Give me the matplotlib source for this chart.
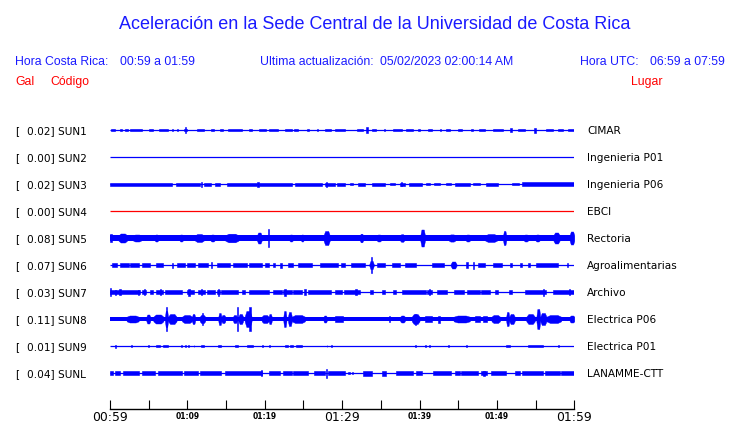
import matplotlib
matplotlib.use('Agg')
import matplotlib.pyplot as plt
import matplotlib.transforms as mtransforms

# estaciones, de arriba hacia abajo
codigos = ['SUN1', 'SUN2', 'SUN3', 'SUN4', 'SUN5', 'SUN6', 'SUN7', 'SUN8', 'SUN9', 'SUNL']
gal = ['0.02', '0.00', '0.02', '0.00', '0.08', '0.07', '0.03', '0.11', '0.01', '0.04']
lugares = ['CIMAR', 'Ingenieria P01', 'Ingenieria P06', 'EBCI', 'Rectoria',
           'Agroalimentarias', 'Archivo', 'Electrica P06', 'Electrica P01', 'LANAMME-CTT']
colores = ['blue', 'blue', 'blue', 'red', 'blue', 'blue', 'blue', 'blue', 'blue', 'blue']
# ancho de banda continua de cada traza (amplitud relativa)
base = [0, 0, 0, 0, 2.7, 0, 0, 2.3, 0, 0]

# eventos de cada traza: (minuto inicio, minuto fin, amplitud)
sun1 = [(0.1, 0.7, 1.3), (1.3, 1.5, 1.3), (2.0, 2.3, 1.2), (2.6, 4.1, 1.3), (5.0, 5.6, 1.2),
        (6.3, 7.5, 1.4), (8.0, 8.2, 1.2), (8.6, 8.8, 1.2), (9.5, 10.0, 1.4), (9.7, 9.85, 2.6),
        (11.2, 12.1, 1.3), (13.0, 13.5, 1.2), (14.2, 14.6, 1.2), (15.3, 17.1, 1.3), (17.9, 18.3, 1.2),
        (19.2, 20.2, 1.3), (20.5, 21.7, 1.2), (22.6, 23.5, 1.3), (23.8, 24.3, 1.2), (25.4, 25.7, 1.2),
        (26.7, 26.9, 1.2), (27.8, 28.6, 1.3), (29.1, 30.4, 1.3), (31.9, 32.7, 1.4), (33.1, 33.3, 2.8),
        (33.8, 34.4, 1.3), (35.4, 35.6, 1.2), (36.6, 37.7, 1.3), (38.3, 39.1, 1.3), (39.8, 40.0, 1.2),
        (41.1, 41.6, 1.4), (42.6, 42.8, 1.2), (43.4, 43.9, 1.2), (45.0, 45.5, 1.3), (46.7, 46.9, 1.2),
        (47.7, 48.4, 1.3), (49.5, 50.8, 1.3), (51.7, 51.9, 2.0), (52.7, 53.6, 1.3), (54.8, 55.1, 2.5),
        (56.4, 57.3, 1.2), (57.9, 58.6, 1.2), (59.2, 60.0, 1.3)]
sun2 = []
sun3 = [(0.0, 8.0, 1.5), (8.5, 11.6, 1.5), (11.7, 11.9, 2.5), (12.1, 13.1, 1.5), (13.6, 14.2, 1.5),
        (15.1, 19.0, 1.5), (19.05, 19.2, 2.5), (19.3, 23.5, 1.5), (23.9, 27.4, 1.5), (27.8, 29.1, 1.5),
        (27.9, 28.05, 2.5), (29.3, 30.4, 1.5), (31.0, 31.4, 1.3), (32.1, 32.9, 1.5), (33.8, 35.5, 1.5),
        (36.2, 36.8, 1.4), (37.5, 38.1, 1.5), (37.6, 37.75, 2.4), (38.6, 40.3, 1.5), (40.8, 41.3, 1.4),
        (41.9, 42.6, 1.4), (43.4, 44.1, 1.4), (44.6, 46.5, 1.5), (46.9, 47.8, 1.4), (48.6, 50.2, 1.5),
        (51.9, 52.8, 1.4), (53.3, 60.0, 1.6)]
sun4 = []
sun5 = [(0.0, 0.2, 4.0), (1.1, 2.2, 4.5), (3.0, 4.0, 3.5), (5.8, 6.2, 3.5), (9.0, 9.4, 3.5),
        (11.0, 12.1, 4.0), (13.0, 13.5, 3.5), (14.9, 16.6, 4.3), (19.0, 19.6, 5.5), (20.4, 20.6, 9.0),
        (23.2, 23.6, 3.5), (24.7, 25.0, 3.5), (27.6, 28.4, 7.0), (32.3, 32.7, 4.3), (34.5, 35.0, 3.5),
        (37.5, 38.0, 3.8), (40.1, 40.7, 8.5), (43.8, 44.6, 3.6), (46.0, 46.5, 3.5), (48.5, 50.0, 4.0),
        (50.8, 51.2, 7.0), (53.5, 54.0, 3.5), (55.0, 55.5, 3.5), (57.3, 58.1, 5.5), (59.4, 60.0, 6.5)]
sun6 = [(0.2, 0.9, 2.0), (1.3, 2.4, 2.0), (2.6, 3.7, 2.0), (4.1, 5.2, 2.0), (6.0, 6.9, 2.0),
        (7.96, 8.2, 2.5), (8.6, 9.7, 2.0), (9.9, 11.0, 2.0), (11.4, 12.7, 2.0), (13.0, 13.2, 3.0),
        (13.8, 15.5, 2.0), (15.9, 17.7, 2.0), (17.9, 19.6, 2.0), (20.0, 20.5, 2.0), (21.1, 21.3, 2.0),
        (22.0, 22.2, 2.5), (23.0, 23.7, 2.0), (24.3, 26.1, 2.0), (27.1, 29.5, 2.0), (29.9, 30.4, 2.0),
        (31.2, 32.9, 2.0), (33.5, 34.1, 4.0), (33.7, 33.9, 8.0), (34.5, 35.5, 2.0), (36.4, 37.5, 2.0),
        (38.1, 39.6, 2.0), (41.6, 43.1, 2.0), (44.0, 44.8, 3.5), (46.0, 46.3, 3.0), (46.9, 47.1, 3.5),
        (47.6, 48.4, 2.0), (49.5, 50.6, 2.0), (51.7, 51.9, 2.0), (53.0, 53.2, 2.0), (54.0, 54.3, 2.0),
        (55.1, 57.9, 2.0), (59.0, 59.2, 2.0)]
sun7 = [(0.0, 0.15, 4.0), (0.0, 3.9, 1.8), (0.6, 0.75, 2.5), (1.2, 1.4, 3.0), (3.6, 3.8, 2.5),
        (4.1, 4.7, 1.8), (4.35, 4.5, 3.0), (5.2, 5.6, 1.8), (6.0, 6.9, 1.8), (6.4, 6.6, 3.0),
        (7.1, 9.3, 1.8), (10.0, 10.8, 1.8), (10.1, 10.3, 3.5), (11.4, 12.3, 1.8), (11.7, 11.9, 3.0),
        (12.5, 13.6, 1.8), (13.8, 14.2, 1.8), (13.9, 14.1, 3.5), (14.4, 16.6, 1.8), (17.0, 17.4, 1.8),
        (17.9, 20.5, 1.8), (21.1, 22.2, 1.8), (22.4, 23.5, 1.8), (22.5, 22.7, 3.5), (23.7, 24.8, 1.8),
        (25.1, 25.3, 3.0), (25.6, 28.6, 1.8), (29.1, 30.0, 1.8), (30.2, 32.3, 1.8), (31.7, 31.9, 3.0),
        (33.6, 34.0, 1.8), (35.1, 35.5, 1.8), (36.6, 37.0, 1.8), (37.7, 40.9, 1.8), (41.0, 41.6, 1.8),
        (41.2, 41.4, 3.0), (42.2, 43.5, 1.8), (44.4, 45.7, 1.8), (46.1, 47.8, 1.8), (48.0, 49.1, 1.8),
        (49.7, 50.2, 1.8), (51.5, 51.9, 1.8), (53.6, 56.4, 1.8), (55.9, 56.1, 3.5), (57.3, 60.0, 1.8),
        (59.3, 59.5, 3.0)]
sun8 = [(2.15, 3.7, 3.5), (4.7, 5.2, 4.5), (5.6, 6.9, 4.5), (7.1, 7.5, 8.0), (7.25, 7.4, 12.0),
        (7.5, 8.6, 5.0), (9.3, 10.6, 4.0), (10.6, 11.0, 5.0), (11.6, 12.3, 4.0), (11.85, 12.0, 6.0),
        (14.0, 14.4, 6.0), (14.4, 14.9, 4.0), (15.9, 16.4, 4.0), (16.4, 16.6, 12.0), (16.6, 17.2, 5.0),
        (17.4, 18.3, 8.0), (18.0, 18.2, 12.0), (19.6, 20.5, 4.0), (20.5, 20.9, 5.0), (22.4, 22.8, 8.0),
        (23.0, 23.5, 7.0), (23.5, 25.2, 4.0), (27.6, 28.0, 3.5), (29.1, 30.1, 3.0), (36.0, 36.2, 2.8),
        (37.5, 38.1, 3.5), (39.0, 40.0, 5.0), (39.4, 39.6, 5.5), (40.7, 41.6, 3.0), (42.4, 42.6, 3.5),
        (44.4, 46.5, 3.5), (47.2, 47.8, 3.0), (48.2, 48.7, 3.0), (49.3, 50.4, 4.0), (51.2, 51.6, 7.0),
        (51.6, 52.3, 5.0), (53.8, 54.9, 5.0), (55.1, 55.6, 10.0), (55.6, 56.4, 6.0), (56.4, 58.3, 4.0),
        (59.4, 60.0, 3.5)]
sun9 = [(0.7, 0.8, 1.5), (2.7, 2.9, 1.3), (4.9, 5.0, 1.3), (6.0, 6.5, 1.3), (6.8, 7.5, 1.3),
        (9.2, 9.3, 1.3), (9.7, 9.8, 1.3), (10.1, 10.2, 1.3), (10.8, 10.9, 1.3), (11.8, 12.1, 1.3),
        (14.0, 14.4, 1.3), (16.1, 16.6, 1.3), (17.7, 18.5, 1.3), (19.6, 19.8, 1.3), (20.5, 20.7, 1.3),
        (22.6, 23.0, 1.3), (23.3, 23.7, 1.3), (24.1, 24.8, 1.3), (28.0, 28.1, 1.3), (28.6, 28.7, 1.3),
        (39.4, 39.5, 1.0), (40.7, 40.8, 1.0), (41.2, 41.3, 1.0), (43.7, 43.8, 1.0), (46.0, 46.1, 1.0),
        (51.2, 51.7, 1.3), (54.0, 56.0, 1.3), (57.9, 58.0, 1.3)]
sunl = [(0.0, 0.4, 1.7), (0.65, 1.3, 1.7), (1.7, 3.7, 1.7), (4.1, 5.8, 1.7), (6.2, 9.3, 1.7),
        (9.5, 11.4, 1.7), (11.6, 14.4, 1.7), (14.9, 19.6, 1.7), (19.55, 19.7, 3.0), (20.5, 22.0, 1.7),
        (22.4, 23.5, 1.7), (23.7, 25.6, 1.7), (26.3, 27.8, 1.7), (27.95, 28.1, 4.5), (28.2, 30.4, 1.7),
        (30.8, 31.0, 1.3), (31.3, 31.4, 1.3), (32.7, 33.8, 2.5), (35.1, 35.7, 2.5), (37.0, 39.2, 1.7),
        (39.6, 40.3, 1.7), (41.8, 44.1, 1.7), (44.6, 45.2, 1.7), (45.4, 47.6, 1.7), (48.0, 48.7, 1.7),
        (48.25, 48.4, 2.5), (49.3, 51.2, 1.7), (52.3, 53.0, 1.7), (53.2, 56.0, 1.7), (56.2, 58.1, 1.7),
        (58.3, 60.0, 1.7)]
eventos = [sun1, sun2, sun3, sun4, sun5, sun6, sun7, sun8, sun9, sunl]

minutos_ticks = [0, 10, 20, 30, 40, 50, 60]
etiquetas_ticks = ['00:59', '01:09', '01:19', '01:29', '01:39', '01:49', '01:59']
etiqueta_grande = [True, False, False, True, False, False, True]

W, H = 740, 423
fig = plt.figure(figsize=(W / 100, H / 100), dpi=100)
fx = lambda px: px / W
fy = lambda py: 1 - py / H

# ejes de las trazas: 1 unidad vertical = 1 pixel
ax = fig.add_axes([fx(110), fy(409), fx(574.3) - fx(110), fy(115) - fy(409)])
ax.set_xlim(0, 60)
ax.set_ylim(294, 0)
for s in ['top', 'left', 'right']:
    ax.spines[s].set_visible(False)
ax.spines['bottom'].set_linewidth(1.0)
ax.set_yticks([])

for i, ev in enumerate(eventos):
    yc = 15 + 27 * i
    c = colores[i]
    ax.plot([0, 60], [yc, yc], color=c, lw=0.9, solid_capstyle='butt')
    if base[i] > 0:
        ax.fill_between([0, 60], yc - base[i], yc + base[i], color=c, lw=0)
    for s0, s1, a in ev:
        w = s1 - s0
        b = max(base[i], 0.5)
        if a >= 3.5 and w >= 0.3:
            # rafaga: se dibuja en forma de huso
            xs = [s0, s0 + w / 4, s1 - w / 4, s1]
            amp = [b, a, a, b]
            ax.fill_between(xs, [yc - v for v in amp], [yc + v for v in amp],
                            color=c, edgecolor=c, lw=0.3)
        else:
            ax.bar(s0, 2 * a, width=w, bottom=yc - a, align='edge',
                   color=c, edgecolor=c, linewidth=0.4)

# eje de tiempo
ax.set_xticks(minutos_ticks)
ax.set_xticks([5, 15, 25, 35, 45, 55], minor=True)
ax.set_xticklabels([])
ax.tick_params(axis='x', which='both', direction='in', length=6.5, width=0.8)
trans = mtransforms.blended_transform_factory(ax.transData, ax.transAxes)
for m, lab, grande in zip(minutos_ticks, etiquetas_ticks, etiqueta_grande):
    if grande:
        ax.text(m, -12 / 294, lab, transform=trans, ha='center', va='baseline',
                fontsize=8.9, clip_on=False)
    else:
        ax.text(m, -10 / 294, lab, transform=trans, ha='center', va='baseline',
                fontsize=5.5, fontweight='bold', clip_on=False)

# textos de cabecera
hf = 'Liberation Sans'
azul = '#1a1aff'
fig.text(fx(375), fy(29), 'Aceleración en la Sede Central de la Universidad de Costa Rica',
         ha='center', va='baseline', fontsize=13, color=azul, family=hf)
fig.text(fx(15), fy(65), 'Hora Costa Rica:', va='baseline', fontsize=8.8, color=azul, family=hf)
fig.text(fx(120), fy(65), '00:59 a 01:59', va='baseline', fontsize=8.8, color=azul, family=hf)
fig.text(fx(260), fy(65), 'Ultima actualización:', va='baseline', fontsize=8.8, color=azul, family=hf)
fig.text(fx(380), fy(65), '05/02/2023 02:00:14 AM', va='baseline', fontsize=8.8, color=azul, family=hf)
fig.text(fx(580.5), fy(65), 'Hora UTC:', va='baseline', fontsize=8.8, color=azul, family=hf)
fig.text(fx(650.5), fy(65), '06:59 a 07:59', va='baseline', fontsize=8.8, color=azul, family=hf)
fig.text(fx(15), fy(85), 'Gal', va='baseline', fontsize=8.8, color='red', family=hf)
fig.text(fx(50), fy(85), 'Código', va='baseline', fontsize=8.8, color='red', family=hf)
fig.text(fx(630.5), fy(85), 'Lugar', va='baseline', fontsize=8.8, color='red', family=hf)

# etiquetas de cada estacion
for i in range(len(codigos)):
    yb = 130 + 27 * i + 4.3
    fig.text(fx(15), fy(yb), '[', va='baseline', fontsize=7.6)
    fig.text(fx(27.3), fy(yb), gal[i] + '] ' + codigos[i], va='baseline', fontsize=7.6)
    fig.text(fx(587), fy(yb), lugares[i], va='baseline', fontsize=7.6)

fig.savefig('out.png', dpi=100)
